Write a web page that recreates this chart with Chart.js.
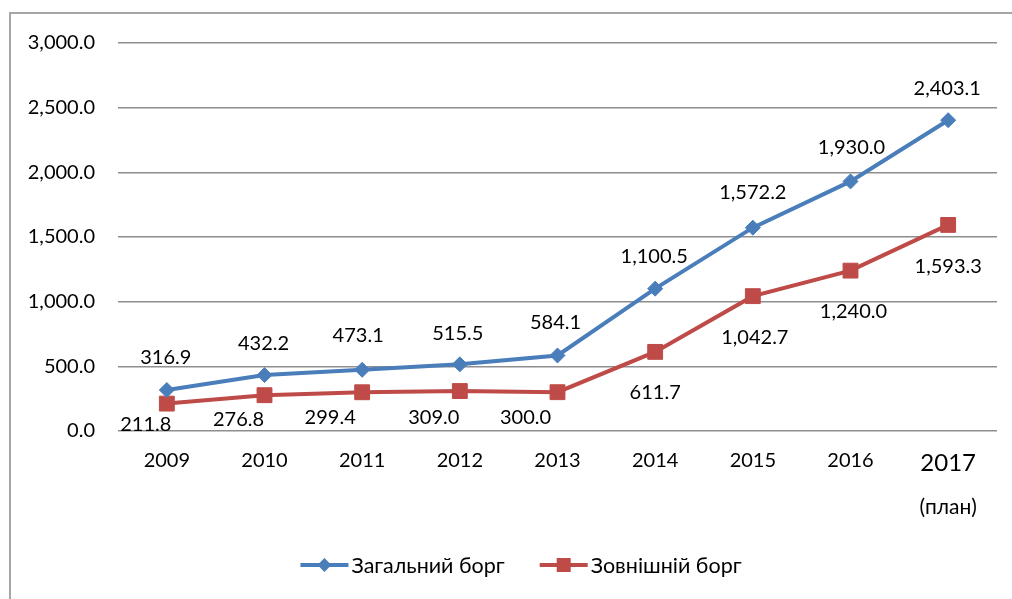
<!DOCTYPE html>
<html>
<head>
<meta charset="utf-8">
<script src="https://cdn.jsdelivr.net/npm/chart.js@4.4.1/dist/chart.umd.min.js"></script>
<style>
  html, body { margin: 0; padding: 0; background: #fff; overflow: hidden; }
  #wrap { position: relative; width: 1012px; height: 599px; }
  #frame { position: absolute; left: 9px; top: 12px; width: 1100px; height: 700px;
           border-left: 2px solid #a6a6a6; border-top: 2px solid #a6a6a6; pointer-events: none; }
</style>
</head>
<body>
<div id="wrap">
  <canvas id="debt" width="1012" height="599"></canvas>
  <div id="frame"></div>
</div>
<script>
// ── data (млн) ──
const years        = ["2009", "2010", "2011", "2012", "2013", "2014", "2015", "2016", "2017"];
const totalDebt    = [316.9, 432.2, 473.1, 515.5, 584.1, 1100.5, 1572.2, 1930.0, 2403.1];
const externalDebt = [211.8, 276.8, 299.4, 309.0, 300.0, 611.7, 1042.7, 1240.0, 1593.3];
const seriesNames  = ["Загальний борг", "Зовнішній борг"];
const planNote     = "(план)";
const yMin = 0, yMax = 3000, yStep = 500;

// label nudges (px) relative to each point
const totalShift    = [[-1,-32],[-1,-32],[-4,-34],[-2,-31],[-2,-33],[-1,-32],[0,-35],[1,-34],[-1,-32]];
const externalShift = [[-21,21],[-26,24],[-32,25],[-26,27],[-32,25],[0,41],[2,41],[3,41],[0,42]];

const FONT = "Lato, 'Open Sans', 'Noto Sans', sans-serif";
const BLUE = "#4A7EBB";
const RED  = "#BE4B48";
const INK  = "#000";

function fmt(v) {
  const s = Number(v).toFixed(1);
  const [i, d] = s.split(".");
  return i.replace(/\B(?=(\d{3})+(?!\d))/g, ",") + "." + d;
}

const pointLabels = {
  id: "pointLabels",
  afterDatasetsDraw(chart) {
    const ctx = chart.ctx;
    const shifts = [totalShift, externalShift];
    ctx.save();
    ctx.font = "20px " + FONT;
    ctx.fillStyle = INK;
    ctx.textAlign = "center";
    ctx.textBaseline = "middle";
    chart.data.datasets.forEach((ds, di) => {
      chart.getDatasetMeta(di).data.forEach((pt, i) => {
        const [dx, dy] = shifts[di][i];
        ctx.fillText(fmt(ds.data[i]), pt.x + dx, pt.y + dy);
      });
    });
    ctx.restore();
  }
};

// "(план)" under the last year
const planLabel = {
  id: "planLabel",
  afterDraw(chart) {
    const x = chart.scales.x.getPixelForValue(years.length - 1);
    const ctx = chart.ctx;
    ctx.save();
    ctx.font = "21px " + FONT;
    ctx.fillStyle = INK;
    ctx.textAlign = "center";
    ctx.textBaseline = "middle";
    ctx.fillText(planNote, x, 507);
    ctx.restore();
  }
};

// Excel-style legend: line with marker, then text
const lineLegend = {
  id: "lineLegend",
  afterDraw(chart) {
    const ctx = chart.ctx;
    const sw = 48, gapTxt = 3, gapItem = 35, cy = 565, mid = 521;
    ctx.save();
    ctx.font = "21.5px " + FONT;
    const widths = chart.data.datasets.map(ds => ctx.measureText(ds.label).width);
    const total = widths.reduce((a, w) => a + sw + gapTxt + w, 0) + gapItem * (widths.length - 1);
    let x = mid - total / 2;
    chart.data.datasets.forEach((ds, i) => {
      ctx.strokeStyle = ds.borderColor;
      ctx.lineWidth = 4;
      ctx.beginPath(); ctx.moveTo(x, cy); ctx.lineTo(x + sw, cy); ctx.stroke();
      ctx.fillStyle = ds.borderColor;
      const cx = x + sw / 2;
      ctx.beginPath();
      if (ds.pointStyle === "rectRot") {
        ctx.moveTo(cx, cy - 7); ctx.lineTo(cx + 7, cy); ctx.lineTo(cx, cy + 7); ctx.lineTo(cx - 7, cy);
      } else {
        ctx.rect(cx - 7, cy - 7, 14, 14);
      }
      ctx.closePath(); ctx.fill();
      ctx.fillStyle = INK;
      ctx.textAlign = "left";
      ctx.textBaseline = "middle";
      ctx.fillText(ds.label, x + sw + gapTxt, cy + 1);
      x += sw + gapTxt + widths[i] + gapItem;
    });
    ctx.restore();
  }
};

new Chart(document.getElementById("debt"), {
  type: "line",
  data: {
    labels: years,
    datasets: [
      { label: seriesNames[0], data: totalDebt, borderColor: BLUE, backgroundColor: BLUE,
        borderWidth: 4, pointStyle: "rectRot", pointRadius: 7.5, pointBorderWidth: 1,
        pointBackgroundColor: BLUE, pointBorderColor: BLUE, tension: 0 },
      { label: seriesNames[1], data: externalDebt, borderColor: RED, backgroundColor: RED,
        borderWidth: 4, pointStyle: "rect", pointRadius: 10.5, pointBorderWidth: 1,
        pointBackgroundColor: RED, pointBorderColor: RED, tension: 0 }
    ]
  },
  options: {
    responsive: false, animation: false, events: [],
    layout: { padding: { left: 0, right: 15, top: 43, bottom: 14 } },
    plugins: {
      tooltip: { enabled: false },
      legend: { display: false }
    },
    scales: {
      x: {
        offset: true,
        grid: { display: false, drawTicks: false },
        border: { display: false },
        ticks: {
          color: INK, padding: 18, maxRotation: 0,
          font: (c) => ({ family: FONT, size: c.index === years.length - 1 ? 24 : 20 })
        },
        afterFit: (s) => { s.height = 154; }
      },
      y: {
        min: yMin, max: yMax,
        grid: { color: "#8e8e8e", lineWidth: 1.5, drawTicks: false },
        border: { display: false },
        ticks: { stepSize: yStep, color: INK, padding: 23, font: { family: FONT, size: 20 },
                 callback: (v) => fmt(v) },
        afterFit: (s) => { s.width = 118; }
      }
    }
  },
  plugins: [pointLabels, planLabel, lineLegend]
});
</script>
</body>
</html>
